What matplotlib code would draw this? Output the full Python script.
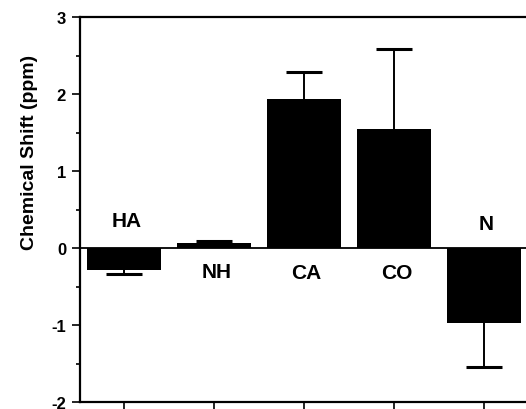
import matplotlib.pyplot as plt
import numpy as np

# Data
nuclei = ['HA', 'NH', 'CA', 'CO', 'N']
shift = [-0.29, 0.06, 1.93, 1.55, -0.97]
err = [0.05, 0.03, 0.36, 1.03, 0.57]
label_y = [0.36, -0.30, -0.32, -0.32, 0.32]

plt.rcParams['font.family'] = ['Liberation Sans', 'DejaVu Sans']
plt.rcParams['font.weight'] = 'bold'
plt.rcParams['axes.unicode_minus'] = False

fig = plt.figure(figsize=(5.26, 4.10), dpi=100)
ax = fig.add_axes([80 / 526, 1 - 403 / 410, 1 - 80 / 526, (403 - 18) / 410])

x = np.arange(len(nuclei))
shift = np.array(shift)
err = np.array(err)

ax.bar(x, shift, width=0.82, color='black', zorder=2)

# one-sided error bars pointing away from zero, cap only at the far end
pos = shift > 0
neg = ~pos
_, caps, _ = ax.errorbar(x[pos], shift[pos], yerr=[np.zeros(pos.sum()), err[pos]],
                         fmt='none', ecolor='black', elinewidth=1.4,
                         capsize=13, capthick=2.2, zorder=1)
caps[0].remove()
_, caps, _ = ax.errorbar(x[neg], shift[neg], yerr=[err[neg], np.zeros(neg.sum())],
                         fmt='none', ecolor='black', elinewidth=1.4,
                         capsize=13, capthick=2.2, zorder=1)
caps[1].remove()

ax.axhline(0, color='black', lw=1.3, zorder=3)

for xi, name, ly in zip(x, nuclei, label_y):
    ax.text(xi + 0.03, ly, name, ha='center', va='center', fontsize=15,
            fontweight='bold')

ax.set_xlim(-0.49, 4.47)
ax.set_ylim(-2, 3)
ax.set_yticks([-2, -1, 0, 1, 2, 3])
ax.set_yticks(np.arange(-2, 3, 0.5), minor=True)
ax.set_xticks(x)
ax.set_xticklabels([])
ax.tick_params(axis='y', which='major', length=6, width=1.2, pad=4,
               labelsize=12)
ax.tick_params(axis='y', which='minor', length=3, width=1.2)
ax.tick_params(axis='x', length=6, width=1.2)

ax.spines['right'].set_visible(False)
for s in ['left', 'top', 'bottom']:
    ax.spines[s].set_linewidth(1.6)

ax.set_ylabel('Chemical Shift (ppm)', fontsize=14, fontweight='bold')
ax.yaxis.set_label_coords(-0.094, 0.65)

fig.savefig('out.png', dpi=100)
